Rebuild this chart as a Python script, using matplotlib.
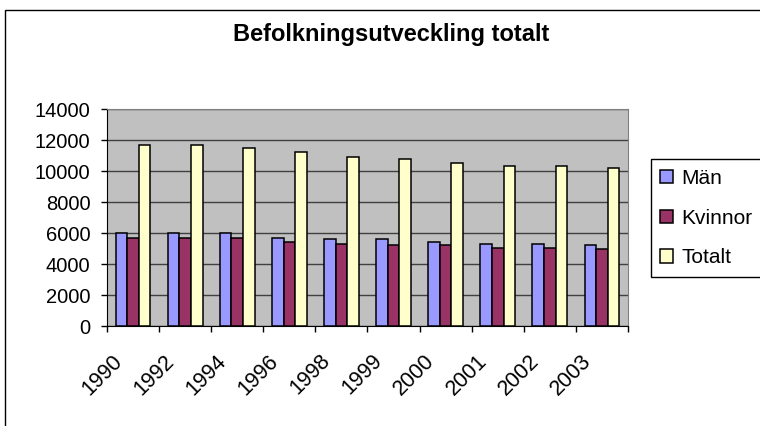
import numpy as np
import matplotlib
matplotlib.use('Agg')
from matplotlib import pyplot as plt
from matplotlib.patches import Rectangle
from matplotlib.transforms import ScaledTranslation

plt.rcParams['font.family'] = ['Liberation Sans', 'DejaVu Sans']

years = ['1990', '1992', '1994', '1996', '1998', '1999', '2000', '2001', '2002', '2003']
man = [6000, 6000, 6000, 5700, 5600, 5600, 5450, 5300, 5300, 5200]
kvinnor = [5700, 5700, 5700, 5450, 5300, 5200, 5200, 5050, 5050, 4950]
totalt = [11650, 11650, 11500, 11250, 10900, 10750, 10500, 10350, 10350, 10200]

series = [('Män', man, '#9999FF'),
          ('Kvinnor', kvinnor, '#993366'),
          ('Totalt', totalt, '#FFFFCC')]

fig = plt.figure(figsize=(7.6, 4.26), dpi=100)
ax = fig.add_axes([0.1408, 0.2347, 0.6855, 0.5094])
ax.set_facecolor('#C0C0C0')

x = np.arange(len(years))
w = 1 / 4.5  # excel gap width 150%
for k, (name, vals, col) in enumerate(series):
	ax.bar(x + (k - 1) * w, vals, w, color=col, edgecolor='black', linewidth=1.1,
		label=name, zorder=3)

ax.set_xlim(-0.5, len(years) - 0.5)
ax.set_ylim(0, 14000)
ax.set_yticks(np.arange(0, 14001, 2000))
ax.yaxis.grid(True, color='#404040', linewidth=1, zorder=1)
ax.set_axisbelow(True)

# ticks between categories, labels on the centres
ax.set_xticks(np.arange(-0.5, len(years), 1))
ax.set_xticklabels([])
ax.set_xticks(x, years, minor=True)
ax.tick_params(axis='x', which='major', direction='out', length=4, width=1)
ax.tick_params(axis='x', which='minor', length=0, pad=23, labelsize=15.5)
ax.tick_params(axis='y', direction='out', length=4, width=1, pad=8, labelsize=14.5)
off = ScaledTranslation(-14 / 100, 0, fig.dpi_scale_trans)
for lab in ax.get_xticklabels(minor=True):
	lab.set_rotation(45)
	lab.set_ha('right')
	lab.set_va('center')
	lab.set_rotation_mode('anchor')
	lab.set_transform(lab.get_transform() + off)

for s in ['left', 'bottom']:
	ax.spines[s].set_color('black')
for s in ['top', 'right']:
	ax.spines[s].set_color('#808080')

fig.text(0.5145, 1 - 41 / 426, 'Befolkningsutveckling totalt', ha='center',
	va='baseline', fontsize=17, fontweight='bold')

leg = ax.legend(loc='center left', bbox_to_anchor=(651 / 760, 1 - 218 / 426),
	bbox_transform=fig.transFigure, fontsize=15, frameon=True, fancybox=False,
	edgecolor='black', framealpha=1, borderaxespad=0, handlelength=0.6,
	handleheight=0.6, handletextpad=0.4, labelspacing=1.0, borderpad=0.45)
leg.get_frame().set_linewidth(1)

# outer chart border (cut off at right and bottom)
fig.add_artist(Rectangle((5 / 760, -0.5), 1.5, 0.5 + 1 - 10 / 426, fill=False,
	edgecolor='black', linewidth=1, transform=fig.transFigure, clip_on=False))

fig.savefig('out.png', dpi=100)
